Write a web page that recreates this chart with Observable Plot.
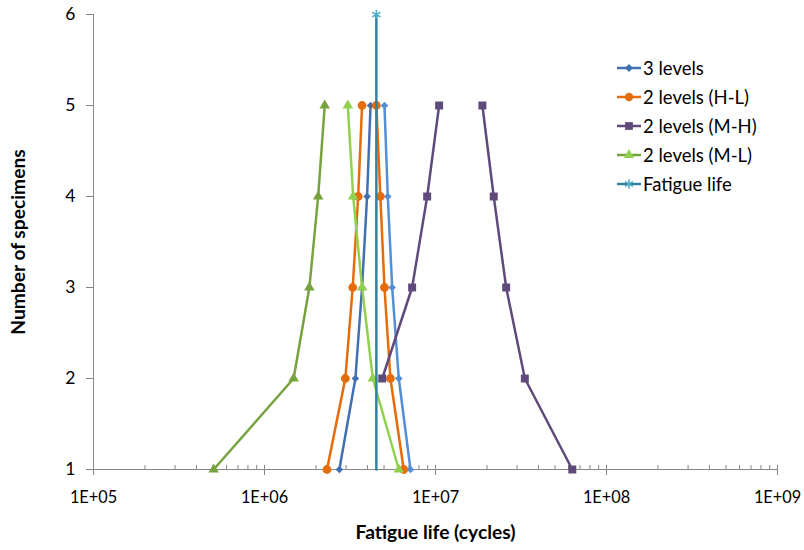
<!DOCTYPE html>
<html>
<head>
<meta charset="utf-8">
<script src="https://cdn.jsdelivr.net/npm/d3@7"></script>
<script src="https://cdn.jsdelivr.net/npm/@observablehq/plot@0.6"></script>
<style>
  html, body { margin: 0; padding: 0; background: #fff; }
  #wrap { position: relative; width: 804px; height: 550px; font-family: Lato, "Liberation Sans", sans-serif; }
  #legend { position: absolute; left: 616px; top: 53px; font-size: 18.5px; color: #000; }
  .row { display: flex; align-items: center; height: 29.2px; white-space: nowrap; }
  .row svg { margin-right: 1px; flex: none; }
</style>
</head>
<body>
<div id="wrap"></div>
<script>
// ---- data ----
const specimens = [1, 2, 3, 4, 5];
const threeLevelsLow  = [2.74e6, 3.40e6, 3.72e6, 3.98e6, 4.17e6];
const threeLevelsHigh = [7.14e6, 6.10e6, 5.58e6, 5.26e6, 5.03e6];
const hlLow  = [2.32e6, 2.97e6, 3.28e6, 3.53e6, 3.72e6];
const hlHigh = [6.52e6, 5.45e6, 5.03e6, 4.76e6, 4.51e6];
const mhLowSpecimens = [2, 3, 4, 5];
const mhLow  = [4.88e6, 7.30e6, 8.94e6, 1.05e7];
const mhHigh = [6.31e7, 3.33e7, 2.59e7, 2.19e7, 1.88e7];
const mlLow  = [5.04e5, 1.48e6, 1.83e6, 2.06e6, 2.25e6];
const mlHigh = [6.10e6, 4.30e6, 3.72e6, 3.30e6, 3.07e6];
const fatigueSpecimens = [1, 6];
const fatigueLife = [4.51e6, 4.51e6];

const seriesNames = ["3 levels", "2 levels (H-L)", "2 levels (M-H)", "2 levels (M-L)", "Fatigue life"];
const xMajorTicks = [1e5, 1e6, 1e7, 1e8, 1e9];
const yTicks = [1, 2, 3, 4, 5, 6];

const branches = [
  {name: "3 levels", x: threeLevelsLow, y: specimens, color: "#4170b0", symbol: "diamond2", r: 3.4},
  {name: "3 levels", x: threeLevelsHigh, y: specimens, color: "#558ed5", symbol: "diamond2", r: 3.4},
  {name: "2 levels (H-L)", x: hlLow, y: specimens, color: "#e46c0a", symbol: "circle", r: 4.4},
  {name: "2 levels (H-L)", x: hlHigh, y: specimens, color: "#e46c0a", symbol: "circle", r: 4.4},
  {name: "2 levels (M-H)", x: mhLow, y: mhLowSpecimens, color: "#604a7b", symbol: "square", r: 4.5},
  {name: "2 levels (M-H)", x: mhHigh, y: specimens, color: "#604a7b", symbol: "square", r: 4.5},
  {name: "2 levels (M-L)", x: mlLow, y: specimens, color: "#77a33f", symbol: "triangle", r: 3.9},
  {name: "2 levels (M-L)", x: mlHigh, y: specimens, color: "#92d050", symbol: "triangle", r: 3.9}
];

const minorTicks = [];
for (let e = 5; e < 9; e++) for (let m = 2; m <= 9; m++) minorTicks.push(m * Math.pow(10, e));

const axisColor = "#868686";
const font = "Lato, 'Liberation Sans', sans-serif";

const marks = [
  Plot.ruleX([1e5], {stroke: axisColor}),
  Plot.ruleY([1], {stroke: axisColor}),
  Plot.ruleX(minorTicks, {x: d => d, y1: 1, y2: 1, insetTop: -4, stroke: axisColor}),
  Plot.ruleX(xMajorTicks.slice(1), {x: d => d, y1: 1, y2: 1, insetTop: -4, insetBottom: -6, stroke: axisColor}),
  Plot.axisX({ticks: xMajorTicks, tickFormat: d => "1E+0" + Math.round(Math.log10(d)), tickSize: 6, tickPadding: 16, stroke: axisColor, fill: "#000", fontSize: 16.3, fontFamily: font, label: null}),
  Plot.axisY({ticks: yTicks, tickFormat: d => String(d), tickSize: 7, tickPadding: 11, stroke: axisColor, fill: "#000", fontSize: 17.5, fontFamily: font, label: null}),
  Plot.text(["Fatigue life (cycles)"], {frameAnchor: "bottom", dy: 69, fontWeight: "bold", fontSize: 19.2, fontFamily: font, fill: "#000"}),
  Plot.text(["Number of specimens"], {frameAnchor: "left", textAnchor: "middle", dx: -75, rotate: -90, fontWeight: "bold", fontSize: 19.2, fontFamily: font, fill: "#000"})
];

for (const b of branches) {
  const rows = b.x.map((x, i) => ({x, y: b.y[i]}));
  marks.push(Plot.line(rows, {x: "x", y: "y", stroke: b.color, strokeWidth: 2.5}));
}
for (const b of branches) {
  const rows = b.x.map((x, i) => ({x, y: b.y[i]}));
  marks.push(Plot.dot(rows, {x: "x", y: "y", symbol: b.symbol, r: b.r, fill: b.color, stroke: "none"}));
}
const fatigueRows = fatigueLife.map((x, i) => ({x, y: fatigueSpecimens[i]}));
marks.push(Plot.line(fatigueRows, {x: "x", y: "y", stroke: "#31849b", strokeWidth: 2.5}));
marks.push(Plot.dot(fatigueRows.filter(d => d.y === 6), {x: "x", y: "y", symbol: "asterisk", r: 4.5, stroke: "#4bacc6", strokeWidth: 1.5}));

const chart = Plot.plot({
  width: 804, height: 550,
  marginLeft: 93, marginRight: 27, marginTop: 14, marginBottom: 81,
  style: {background: "#fff", fontFamily: font, overflow: "visible"},
  x: {type: "log", domain: [1e5, 1e9], axis: null},
  y: {domain: [1, 6], axis: null},
  marks
});
document.getElementById("wrap").appendChild(chart);

// legend
const legendStyles = [
  {color: "#4170b0", symbol: d3.symbolDiamond2, size: 40},
  {color: "#e46c0a", symbol: d3.symbolCircle, size: 55},
  {color: "#604a7b", symbol: d3.symbolSquare, size: 60},
  {color: "#77a33f", symbol: d3.symbolTriangle, size: 45, fill: "#92d050"},
  {color: "#4bacc6", symbol: d3.symbolAsterisk, size: 60, stroke: true, line: "#31849b"}
];
const legend = document.createElement("div");
legend.id = "legend";
seriesNames.forEach((name, i) => {
  const s = legendStyles[i];
  const row = document.createElement("div");
  row.className = "row";
  const svg = d3.create("svg").attr("width", 26).attr("height", 16);
  svg.append("line").attr("x1", 1).attr("x2", 25).attr("y1", 8).attr("y2", 8)
    .attr("stroke", s.line || s.color).attr("stroke-width", 2.5);
  const p = svg.append("path").attr("d", d3.symbol(s.symbol, s.size)()).attr("transform", "translate(13,8)");
  if (s.stroke) p.attr("fill", "none").attr("stroke", s.color).attr("stroke-width", 1.5);
  else p.attr("fill", s.fill || s.color);
  row.appendChild(svg.node());
  const t = document.createElement("span");
  t.textContent = name;
  row.appendChild(t);
  legend.appendChild(row);
});
document.getElementById("wrap").appendChild(legend);
</script>
</body>
</html>
